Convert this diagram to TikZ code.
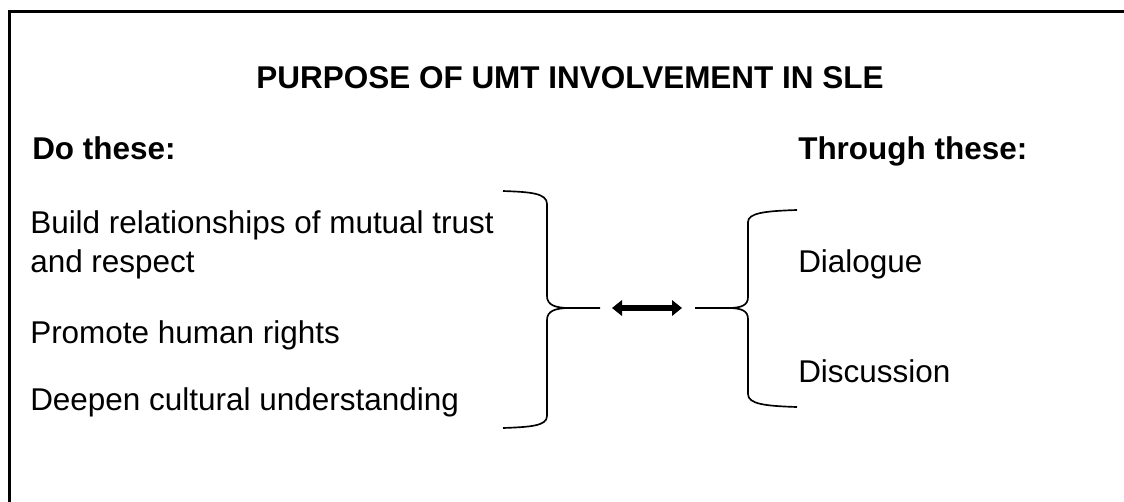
\documentclass[tikz,border=0pt]{standalone}
\usepackage{fontspec}
\setmainfont{Liberation Sans}
\usetikzlibrary{arrows.meta}
\tikzset{
  txt/.style={inner sep=0pt, anchor=base west, font=\fontsize{23.6}{27}\selectfont},
  hdr/.style={txt, font=\fontsize{23.6}{27}\selectfont\bfseries},
  frame/.style={line width=2pt, line join=miter},
  brace/.style={line width=1.25pt},
  dblarrow/.style={line width=4pt, {Triangle[length=7.5pt,width=11.5pt]}-{Triangle[length=7.5pt,width=11.5pt]}}
}
\begin{document}
\begin{tikzpicture}[x=0.75pt,y=-0.75pt]
\useasboundingbox (0,0) rectangle (1124,501);
\draw[frame] (9.5,503) -- (9.5,11.5) -- (1126,11.5);

\node[hdr, anchor=base] (title) at (570,88) {PURPOSE OF UMT INVOLVEMENT IN SLE};
\node[hdr] (do) at (32,159) {Do these:};
\node[hdr] (through) at (798,159) {Through these:};

\node[txt] (build1) at (30,233) {Build relationships of mutual trust};
\node[txt] (build2) at (30,272) {and respect};
\node[txt] (promote) at (30,343) {Promote human rights};
\node[txt] (deepen) at (30,410) {Deepen cultural understanding};

\node[txt] (dialogue) at (798,272) {Dialogue};
\node[txt] (discussion) at (798,382) {Discussion};

% left brace
\coordinate (lbtop) at (503,191);
\coordinate (lbbot) at (503,428);
\coordinate (lbtip) at (600,308);
\draw[brace] (lbtop) .. controls (530,192) and (547,193) .. (547,204) -- (547,296)
  .. controls (547,305) and (555,308) .. (570,308) -- (lbtip);
\draw[brace] (570,308) .. controls (555,308) and (547,311) .. (547,320) -- (547,416)
  .. controls (547,426) and (530,427) .. (lbbot);

% right brace
\coordinate (rbtip) at (695,308);
\coordinate (rbtop) at (797,210);
\coordinate (rbbot) at (797,407);
\draw[brace] (rbtip) -- (728,308) .. controls (742,308) and (748,305) .. (748,297) -- (748,222)
  .. controls (748,213) and (765,211) .. (rbtop);
\draw[brace] (728,308) .. controls (742,308) and (748,311) .. (748,319) -- (748,394)
  .. controls (748,404) and (765,406) .. (rbbot);

% arrow
\coordinate (al) at (612,308);
\coordinate (ar) at (682,308);
\draw[dblarrow] (al) -- (ar);
\end{tikzpicture}
\end{document}
